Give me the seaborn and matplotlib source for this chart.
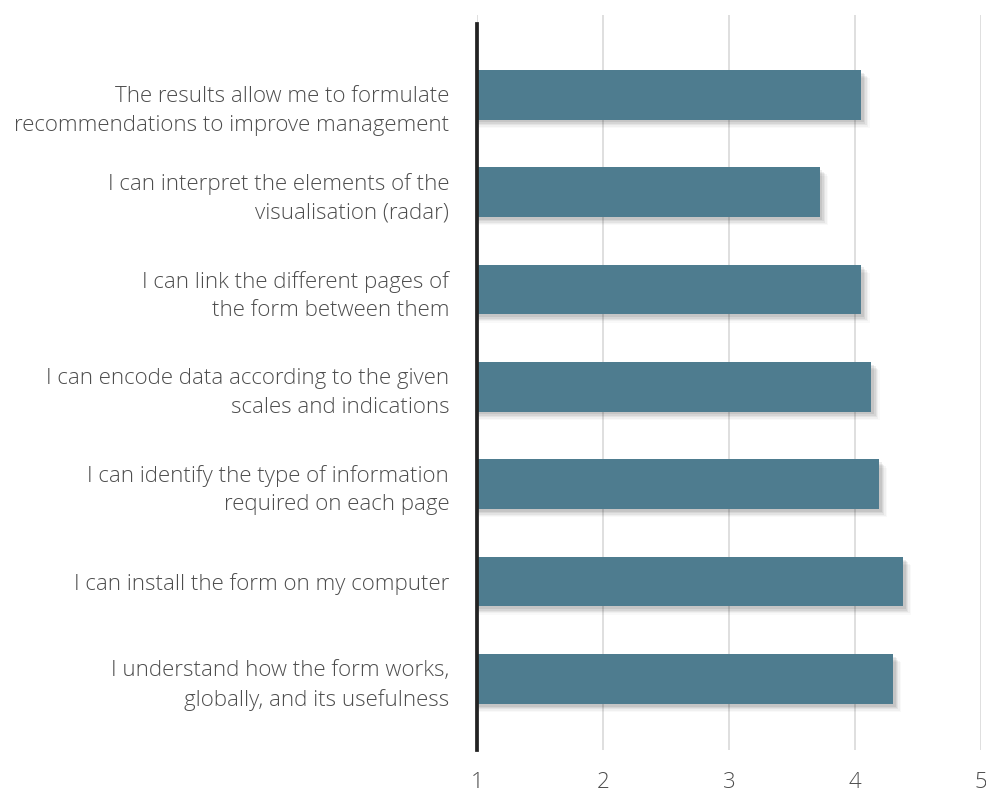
import matplotlib
matplotlib.use("Agg")
import matplotlib.pyplot as plt
import matplotlib.patheffects as pe
from matplotlib.transforms import ScaledTranslation
import seaborn as sns
import pandas as pd

statements = [
    "The results allow me to formulate\nrecommendations to improve management",
    "I can interpret the elements of the\nvisualisation (radar)",
    "I can link the different pages of\nthe form between them",
    "I can encode data according to the given\nscales and indications",
    "I can identify the type of information\nrequired on each page",
    "I can install the form on my computer",
    "I understand how the form works,\nglobally, and its usefulness",
]
scores = [4.05, 3.72, 4.05, 4.13, 4.19, 4.38, 4.30]
x_ticks = [1, 2, 3, 4, 5]

df = pd.DataFrame({"statement": statements, "score": scores})

sns.set_theme(style="white")
plt.rcParams["font.family"] = ["Open Sans", "DejaVu Sans"]

BAR = "#4e7c8f"
TEXT = "#4d4d4d"

fig = plt.figure(figsize=(9.87, 7.94), dpi=100)
ax = fig.add_axes([477 / 987, 1 - 750 / 794, (981 - 477) / 987, (750 - 15) / 794])

sns.barplot(data=df, y="statement", x="score", orient="h", color=BAR,
            width=0.51, saturation=1, ax=ax, zorder=3)

# soft drop shadow under each bar
shadow = [pe.SimplePatchShadow(offset=(d, -d), shadow_rgbFace="black", alpha=a)
          for d, a in [(6, 0.025), (5, 0.035), (4, 0.05), (3, 0.06), (2, 0.07)]]
for p in ax.patches:
    p.set_edgecolor("none")
    p.set_path_effects(shadow + [pe.Normal()])

ax.set_xlim(1, 5)
ax.set_ylim(6.73, -0.82)
ax.set_xticks(x_ticks)
ax.set_xticklabels([str(t) for t in x_ticks])

ax.grid(axis="x", color="#dcdcdc", linewidth=1.3, zorder=0)
ax.grid(axis="y", visible=False)

for side in ["top", "right", "bottom"]:
    ax.spines[side].set_visible(False)
ax.spines["left"].set_color("#222222")
ax.spines["left"].set_linewidth(2.7)
ax.spines["left"].set_bounds(6.73, -0.73)
ax.spines["left"].set_zorder(5)
ax.spines["left"].set_path_effects([
    pe.SimplePatchShadow(offset=(3, -3), shadow_rgbFace="black", alpha=0.08),
    pe.Normal()])

ax.set_xlabel("")
ax.set_ylabel("")
ax.tick_params(axis="y", length=0, pad=20, labelsize=16, labelcolor=TEXT)
ax.tick_params(axis="x", length=0, pad=16, labelsize=16, labelcolor=TEXT)
for lab in ax.get_yticklabels() + ax.get_xticklabels():
    lab.set_fontweight("light")
for lab in ax.get_yticklabels():
    lab.set_linespacing(1.45)
    lab.set_horizontalalignment("right")

# the top statement sits a little lower than its bar
top_label = ax.yaxis.get_major_ticks()[0].label1
top_label.set_transform(top_label.get_transform()
                        + ScaledTranslation(0, -10 / 100, fig.dpi_scale_trans))

fig.savefig("out.png", dpi=100, facecolor="white")
